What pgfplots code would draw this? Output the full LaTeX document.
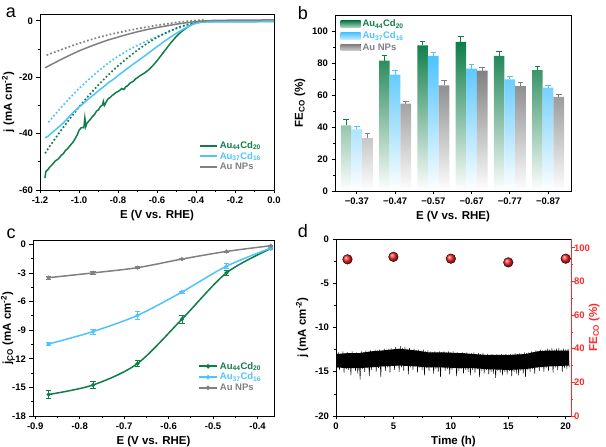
\documentclass[border=0pt]{standalone}
\usepackage{pgfplots}
\pgfplotsset{compat=1.18}
\usepackage{pgfplotstable}
\usepackage{fontspec}
\setmainfont{Liberation Sans}
\usetikzlibrary{shadings}

\definecolor{cgreen}{HTML}{0E7D48}
\definecolor{cblue}{HTML}{4DC3FF}
\definecolor{cgray}{HTML}{808080}
\definecolor{cred}{HTML}{FF2A2A}
\definecolor{cball}{HTML}{FF2020}

\newcommand{\tickfont}{\fontsize{9.5}{10}\selectfont\bfseries}
\newcommand{\labfont}{\fontsize{11.5}{12}\selectfont\bfseries}
\newcommand{\legfont}{\fontsize{9.5}{10}\selectfont\bfseries}
\newcommand{\panelfont}{\fontsize{18}{18}\selectfont}

\pgfplotsset{
  panel/.style={
    scale only axis,
    axis line style={line width=0.8pt},
    tick align=outside,
    tick pos=left,
    major tick length=3.5pt,
    minor tick length=2pt,
    every tick/.style={black, line width=0.7pt},
    tick label style={font=\tickfont},
    label style={font=\labfont},
    legend cell align=left,
  },
  % error bars drawn on their own, without a line
  ebar/.style={draw=none, mark=none, forget plot,
    error bars/.cd, y dir=plus, y explicit,
    error bar style={#1, line width=0.8pt},
    error mark options={rotate=90, #1, mark size=2.8pt, line width=0.8pt}},
}

% Faradaic efficiency of CO (%) with error
\pgfplotstableread{
x  y    e
0  41.0 3.5
1  81.5 3.0
2  91.0 2.5
3  93.2 3.5
4  84.5 3.0
5  75.5 2.5
}\feA
\pgfplotstableread{
x  y    e
0  38.5 2.0
1  72.7 2.6
2  84.4 2.5
3  76.5 2.7
4  69.8 1.8
5  64.6 1.5
}\feB
\pgfplotstableread{
x  y    e
0  33.0 2.8
1  54.6 1.7
2  66.0 3.0
3  75.2 2.2
4  65.5 2.6
5  58.8 1.7
}\feC

% Partial CO current density
\pgfplotstableread{
x      y      e
-0.87  -15.75 0.40
-0.77  -14.75 0.40
-0.67  -12.50 0.35
-0.57  -7.85  0.40
-0.47  -3.00  0.30
-0.37  -0.45  0.10
}\jA
\pgfplotstableread{
x      y      e
-0.87  -10.45 0.15
-0.77  -9.15  0.25
-0.67  -7.45  0.45
-0.57  -5.00  0.10
-0.47  -2.30  0.25
-0.37  -0.40  0.10
}\jB
\pgfplotstableread{
x      y      e
-0.87  -3.50  0.15
-0.77  -3.00  0.12
-0.67  -2.45  0.10
-0.57  -1.55  0.06
-0.47  -0.75  0.05
-0.37  -0.15  0.05
}\jC

\begin{document}
\begin{tikzpicture}
\useasboundingbox (0pt,0pt) rectangle (606pt,447pt);

% ---------------- (a) LSV curves ----------------
\begin{axis}[panel,
  at={(40pt,257pt)}, anchor=south west,
  width=234pt, height=176pt,
  xmin=-1.2, xmax=0, ymin=-60, ymax=2.4,
  xtick={-1.2,-1.0,-0.8,-0.6,-0.4,-0.2,0},
  xticklabels={-1.2,-1.0,-0.8,-0.6,-0.4,-0.2,0.0},
  ytick={-60,-40,-20,0},
  yticklabels={-60,-40,-20,0},
  minor tick num=1,
  xlabel={E (V vs. RHE)},
  ylabel={j (mA cm\textsuperscript{-2})},
  ylabel shift=-2pt,
  legend style={draw=none, fill=none, at={(0.665,0.30)}, anchor=north west,
    font=\legfont, row sep=-1.5pt},
  legend image code/.code={\draw[#1, line width=2pt] (0pt,0pt) -- (17pt,0pt);},
]
% measurements without CO2 (dotted)
\addplot[cgray, line width=1.7pt, dash pattern=on 1.7pt off 2.2pt, forget plot] coordinates {
(-1.166,-12.2) (-1.10,-10.5) (-1.05,-9.2) (-1.00,-8.0) (-0.95,-6.9) (-0.90,-5.9)
(-0.85,-5.0) (-0.80,-4.2) (-0.75,-3.5) (-0.70,-2.8) (-0.65,-2.2) (-0.60,-1.6)
(-0.55,-1.1) (-0.50,-0.6) (-0.45,-0.2) (-0.40,0.1) (-0.35,0.3)};
\addplot[cblue, line width=1.7pt, dash pattern=on 1.7pt off 2.2pt, forget plot] coordinates {
(-1.157,-36.0) (-1.10,-31.4) (-1.05,-27.6) (-1.00,-24.0) (-0.95,-20.8) (-0.90,-17.8)
(-0.85,-15.0) (-0.80,-12.6) (-0.75,-10.5) (-0.70,-8.7) (-0.65,-7.1) (-0.60,-5.6)
(-0.55,-4.2) (-0.50,-2.8) (-0.45,-1.6) (-0.40,-0.7) (-0.35,-0.2) (-0.30,0.0)};
\addplot[cgreen, line width=1.7pt, dash pattern=on 1.7pt off 2.2pt, forget plot] coordinates {
(-1.174,-47.0) (-1.15,-44.5) (-1.10,-39.6) (-1.05,-35.0) (-1.00,-30.6) (-0.95,-26.5)
(-0.90,-22.7) (-0.85,-19.2) (-0.80,-16.0) (-0.75,-13.1) (-0.70,-10.4) (-0.65,-8.0)
(-0.60,-5.9) (-0.55,-4.1) (-0.50,-2.6) (-0.45,-1.4) (-0.40,-0.6) (-0.35,-0.1) (-0.30,0.0)};
% measurements under CO2 (solid)
\addplot[cgreen, line width=1.5pt] coordinates {
(-1.175,-55.8) (-1.17,-53.5) (-1.16,-52.8) (-1.15,-51.9) (-1.14,-51.2) (-1.13,-50.4)
(-1.12,-49.6) (-1.11,-49.2) (-1.10,-48.5) (-1.09,-47.6) (-1.08,-47.1) (-1.07,-46.0)
(-1.06,-45.5) (-1.05,-44.6) (-1.04,-43.8) (-1.03,-43.0) (-1.02,-41.8) (-1.01,-40.6)
(-1.00,-38.9) (-0.99,-38.0) (-0.98,-37.8) (-0.975,-37.9) (-0.97,-34.5) (-0.965,-37.5)
(-0.96,-36.4) (-0.95,-35.6) (-0.94,-34.8) (-0.93,-33.9) (-0.92,-33.2) (-0.91,-32.0)
(-0.90,-31.6) (-0.89,-30.4) (-0.88,-29.9) (-0.875,-28.6) (-0.87,-30.0) (-0.86,-28.7)
(-0.85,-27.6) (-0.84,-27.2) (-0.83,-26.5) (-0.82,-26.0) (-0.81,-25.4) (-0.80,-25.1)
(-0.79,-24.6) (-0.78,-24.0) (-0.77,-24.4) (-0.76,-23.4) (-0.75,-23.0) (-0.74,-22.2)
(-0.73,-21.8) (-0.72,-21.4) (-0.71,-20.6) (-0.70,-20.2) (-0.69,-19.6) (-0.68,-19.2)
(-0.67,-18.8) (-0.66,-18.3) (-0.65,-17.8) (-0.64,-17.2) (-0.63,-16.5) (-0.62,-15.8)
(-0.61,-15.0) (-0.60,-14.2) (-0.59,-13.3) (-0.58,-12.4) (-0.57,-11.5) (-0.56,-10.6)
(-0.55,-9.7) (-0.54,-8.8) (-0.53,-7.9) (-0.52,-7.1) (-0.51,-6.3) (-0.50,-5.5)
(-0.49,-4.8) (-0.48,-4.2) (-0.47,-3.6) (-0.46,-3.1) (-0.45,-2.6) (-0.44,-2.1)
(-0.43,-1.7) (-0.42,-1.3) (-0.41,-1.0) (-0.40,-0.8) (-0.38,-0.5) (-0.35,-0.35)
(-0.30,-0.3) (-0.20,-0.28) (0,-0.25)};
\addlegendentry{\textcolor{cgreen}{Au\textsubscript{44}Cd\textsubscript{20}}}
\addplot[cblue, line width=1.5pt] coordinates {
(-1.174,-41.5) (-1.16,-41.0) (-1.15,-40.4) (-1.13,-39.2) (-1.10,-37.4) (-1.08,-36.2)
(-1.05,-34.0) (-1.03,-32.5) (-1.00,-30.6) (-0.98,-29.5) (-0.95,-27.6) (-0.92,-26.0)
(-0.90,-24.8) (-0.87,-23.2) (-0.85,-22.0) (-0.82,-20.6) (-0.80,-19.4) (-0.77,-17.9)
(-0.75,-16.8) (-0.72,-15.3) (-0.70,-14.3) (-0.67,-12.8) (-0.65,-11.8) (-0.62,-10.2)
(-0.60,-9.2) (-0.57,-7.7) (-0.55,-6.7) (-0.52,-5.3) (-0.50,-4.4) (-0.47,-3.2)
(-0.45,-2.4) (-0.42,-1.4) (-0.40,-0.9) (-0.38,-0.6) (-0.35,-0.4) (-0.30,-0.35) (0,-0.3)};
\addlegendentry{\textcolor{cblue}{Au\textsubscript{37}Cd\textsubscript{16}}}
\addplot[cgray, line width=1.5pt] coordinates {
(-1.174,-16.7) (-1.15,-15.8) (-1.10,-14.0) (-1.05,-12.3) (-1.00,-10.7) (-0.95,-9.3)
(-0.90,-8.0) (-0.85,-6.8) (-0.80,-5.8) (-0.75,-4.8) (-0.70,-3.9) (-0.65,-3.1)
(-0.60,-2.4) (-0.55,-1.8) (-0.50,-1.2) (-0.45,-0.7) (-0.40,-0.3) (-0.35,0.0)
(-0.30,0.15) (0,0.3)};
\addlegendentry{\textcolor{cgray}{Au NPs}}
\end{axis}

% ---------------- (b) FE_CO bars ----------------
\begin{axis}[panel,
  at={(335pt,256pt)}, anchor=south west,
  width=236pt, height=176pt,
  xmin=-0.57, xmax=5.6, ymin=0, ymax=110,
  bar width=10.7pt,
  xtick={0,1,2,3,4,5},
  xticklabels={−0.37,−0.47,−0.57,−0.67,−0.77,−0.87},
  ytick={0,20,40,60,80,100},
  yticklabels={0,20,40,60,80,100},
  minor y tick num=1,
  xlabel={E (V vs. RHE)},
  ylabel={FE\textsubscript{CO} (\%)},
  legend style={draw=none, fill=none, at={(0.01,0.995)}, anchor=north west,
    font=\legfont, row sep=-0.5pt},
]
\addplot[ybar, bar shift=-10.7pt, draw=none, top color=cgreen, bottom color=white,
  legend image code/.code={\fill[top color=cgreen, bottom color=cgreen!35] (0pt,-3pt) rectangle (20pt,3.5pt);}]
  table[x=x, y=y] {\feA};
\addlegendentry{\textcolor{cgreen}{Au\textsubscript{44}Cd\textsubscript{20}}}
\addplot[ybar, bar shift=0pt, draw=none, top color=cblue, bottom color=white,
  legend image code/.code={\fill[top color=cblue, bottom color=cblue!35] (0pt,-3pt) rectangle (20pt,3.5pt);}]
  table[x=x, y=y] {\feB};
\addlegendentry{\textcolor{cblue}{Au\textsubscript{37}Cd\textsubscript{16}}}
\addplot[ybar, bar shift=10.7pt, draw=none, top color=cgray, bottom color=white,
  legend image code/.code={\fill[top color=cgray, bottom color=cgray!35] (0pt,-3pt) rectangle (20pt,3.5pt);}]
  table[x=x, y=y] {\feC};
\addlegendentry{\textcolor{cgray}{Au NPs}}
% error bars, placed at the bar centres (one bar width = 0.28 category units)
\addplot[ebar=cgreen] table[x expr=\thisrow{x}-0.28, y=y, y error=e] {\feA};
\addplot[ebar=cblue]  table[x=x, y=y, y error=e] {\feB};
\addplot[ebar=cgray]  table[x expr=\thisrow{x}+0.28, y=y, y error=e] {\feC};
\end{axis}

% ---------------- (c) partial current density ----------------
\begin{axis}[panel,
  at={(33pt,31pt)}, anchor=south west,
  width=241pt, height=176pt,
  xmin=-0.905, xmax=-0.363, ymin=-18, ymax=0.45,
  xtick={-0.9,-0.8,-0.7,-0.6,-0.5,-0.4},
  xticklabels={-0.9,-0.8,-0.7,-0.6,-0.5,-0.4},
  ytick={-18,-15,-12,-9,-6,-3,0},
  yticklabels={-18,-15,-12,-9,-6,-3,0},
  minor tick num=1,
  xlabel={E (V vs. RHE)},
  ylabel={j\textsubscript{CO} (mA cm\textsuperscript{-2})},
  ylabel shift=-8pt,
  legend style={draw=none, fill=none, at={(0.672,0.33)}, anchor=north west,
    font=\legfont, row sep=-1.5pt},
  legend image code/.code={\draw[#1, line width=1.8pt, mark repeat=2, mark phase=2]
    plot coordinates {(0pt,0pt) (9pt,0pt) (18pt,0pt)};},
  every axis plot/.append style={line width=1.5pt, smooth, mark=*, mark size=1.2pt,
    error bars/y dir=both, error bars/y explicit,
    error bars/error bar style={line width=0.8pt},
    error bars/error mark options={rotate=90, mark size=2.6pt, line width=0.8pt}},
]
\addplot[cgreen] table[x=x, y=y, y error=e] {\jA};
\addlegendentry{\textcolor{cgreen}{Au\textsubscript{44}Cd\textsubscript{20}}}
\addplot[cblue] table[x=x, y=y, y error=e] {\jB};
\addlegendentry{\textcolor{cblue}{Au\textsubscript{37}Cd\textsubscript{16}}}
\addplot[cgray] table[x=x, y=y, y error=e] {\jC};
\addlegendentry{\textcolor{cgray}{Au NPs}}
\end{axis}

% ---------------- (d) stability test ----------------
\begin{axis}[panel,
  at={(336pt,31pt)}, anchor=south west,
  width=235pt, height=177pt,
  xmin=0, xmax=20.46, ymin=-20, ymax=0,
  xtick={0,5,10,15,20},
  xticklabels={0,5,10,15,20},
  ytick={-20,-15,-10,-5,0},
  yticklabels={-20,-15,-10,-5,0},
  minor tick num=1,
  xlabel={Time (h)},
  ylabel={j (mA cm\textsuperscript{-2})},
]
% dense core of the current trace
\addplot[fill=black, draw=none] coordinates {
(0,-13.0) (1,-12.9) (2,-12.9) (3,-12.7) (4,-12.6) (5.5,-12.4) (7,-12.6) (8,-12.8)
(9,-12.8) (11,-12.9) (12,-13.0) (13,-13.1) (15,-13.1) (16.5,-13.0) (17.5,-12.7)
(18.5,-12.6) (20.3,-12.6)
(20.3,-14.3) (18.5,-14.4) (17.5,-14.5) (16.5,-14.7) (15,-14.8) (13,-14.7) (12,-14.6)
(11,-14.6) (9,-14.5) (8,-14.5) (7,-14.4) (5.5,-14.3) (4,-14.4) (3,-14.5) (2,-14.6)
(1,-14.6) (0,-14.5)} -- cycle;
\addplot[black, line width=0.45pt] table {
t j
0.0 -13.0
0.1 -14.6
0.2 -12.8
0.3 -14.8
0.4 -13.0
0.5 -14.5
0.6 -12.7
0.7 -15.1
0.8 -12.9
0.9 -14.7
1.0 -12.8
1.1 -14.8
1.2 -12.9
1.3 -15.4
1.4 -12.7
1.5 -14.6
1.6 -13.0
1.7 -14.9
1.8 -12.8
1.9 -15.2
2.0 -12.9
2.1 -15.9
2.2 -12.7
2.3 -14.7
2.4 -12.8
2.5 -15.0
2.6 -12.6
2.7 -14.6
2.8 -12.9
2.9 -15.5
3.0 -12.6
3.1 -14.8
3.2 -12.7
3.3 -14.5
3.4 -12.5
3.5 -15.0
3.6 -12.6
3.7 -14.6
3.8 -12.5
3.9 -15.6
4.0 -12.6
4.1 -14.4
4.2 -12.4
4.3 -14.9
4.4 -12.5
4.5 -14.5
4.6 -12.4
4.7 -15.1
4.8 -12.3
4.9 -14.3
5.0 -12.5
5.1 -14.8
5.2 -12.2
5.3 -14.4
5.4 -12.4
5.5 -15.0
5.6 -12.1
5.7 -14.5
5.8 -12.3
5.9 -14.9
6.0 -12.2
6.1 -14.3
6.2 -12.4
6.3 -15.3
6.4 -12.3
6.5 -14.5
6.6 -12.5
6.7 -14.8
6.8 -12.4
6.9 -14.4
7.0 -12.6
7.1 -15.1
7.2 -12.5
7.3 -14.6
7.4 -12.6
7.5 -14.8
7.6 -12.5
7.7 -15.4
7.8 -12.7
7.9 -14.6
8.0 -12.6
8.1 -14.9
8.2 -12.7
8.3 -14.5
8.4 -12.8
8.5 -15.2
8.6 -12.7
8.7 -14.7
8.8 -12.8
8.9 -15.0
9.0 -12.7
9.1 -15.6
9.2 -12.8
9.3 -14.6
9.4 -12.7
9.5 -14.9
9.6 -12.8
9.7 -14.7
9.8 -12.7
9.9 -15.3
10.0 -12.8
10.1 -14.8
10.2 -12.7
10.3 -14.6
10.4 -12.9
10.5 -15.5
10.6 -12.8
10.7 -14.9
10.8 -12.9
10.9 -14.7
11.0 -12.8
11.1 -15.2
11.2 -12.9
11.3 -14.8
11.4 -12.8
11.5 -15.0
11.6 -13.0
11.7 -15.4
11.8 -12.9
11.9 -14.8
12.0 -12.8
12.1 -15.1
12.2 -13.0
12.3 -14.7
12.4 -12.9
12.5 -15.6
12.6 -13.0
12.7 -14.9
12.8 -12.9
12.9 -15.2
13.0 -13.1
13.1 -14.8
13.2 -13.0
13.3 -15.3
13.4 -13.1
13.5 -15.0
13.6 -13.0
13.7 -15.2
13.8 -13.2
13.9 -15.7
14.0 -13.0
14.1 -14.9
14.2 -13.1
14.3 -15.1
14.4 -13.0
14.5 -15.4
14.6 -13.1
14.7 -15.0
14.8 -13.0
14.9 -15.3
15.0 -13.1
15.1 -14.9
15.2 -13.0
15.3 -15.5
15.4 -13.1
15.5 -15.0
15.6 -12.9
15.7 -15.2
15.8 -13.0
15.9 -15.4
16.0 -12.9
16.1 -14.9
16.2 -13.0
16.3 -15.2
16.4 -12.8
16.5 -15.6
16.6 -12.9
16.7 -14.8
16.8 -12.8
16.9 -15.0
17.0 -12.7
17.1 -14.7
17.2 -12.8
17.3 -15.2
17.4 -12.6
17.5 -14.6
17.6 -12.7
17.7 -14.9
17.8 -12.5
17.9 -14.5
18.0 -12.6
18.1 -15.0
18.2 -12.5
18.3 -14.6
18.4 -12.4
18.5 -14.9
18.6 -12.5
18.7 -14.4
18.8 -12.3
18.9 -15.1
19.0 -12.5
19.1 -14.5
19.2 -12.4
19.3 -14.8
19.4 -12.3
19.5 -14.4
19.6 -12.5
19.7 -15.0
19.8 -12.4
19.9 -14.6
20.0 -12.5
20.1 -14.7
20.2 -12.4
20.3 -14.5
};
\end{axis}
\begin{axis}[panel,
  at={(336pt,31pt)}, anchor=south west,
  width=235pt, height=177pt,
  xmin=0, xmax=20.46, ymin=0, ymax=105.2,
  axis x line=none,
  axis y line*=right,
  ytick pos=right,
  y axis line style={cred, line width=0.8pt},
  ytick={0,20,40,60,80,100},
  yticklabels={0,20,40,60,80,100},
  minor y tick num=1,
  every tick/.style={cred, line width=0.7pt},
  yticklabel style={cred, xshift=-4pt},
  ylabel style={cred},
  ylabel shift=-8pt,
  ylabel={FE\textsubscript{CO} (\%)},
]
\addplot[only marks, mark=ball, mark size=4.8pt, every mark/.append style={ball color=cball}]
  coordinates {(1,93.1) (5,94.6) (10,93.5) (15,91.3) (20,93.5)};
\end{axis}

% panel letters
\node[font=\panelfont] at (11pt,434pt) {a};
\node[font=\panelfont] at (303pt,434pt) {b};
\node[font=\panelfont] at (11pt,213pt) {c};
\node[font=\panelfont] at (303pt,216pt) {d};
\end{tikzpicture}
\end{document}
